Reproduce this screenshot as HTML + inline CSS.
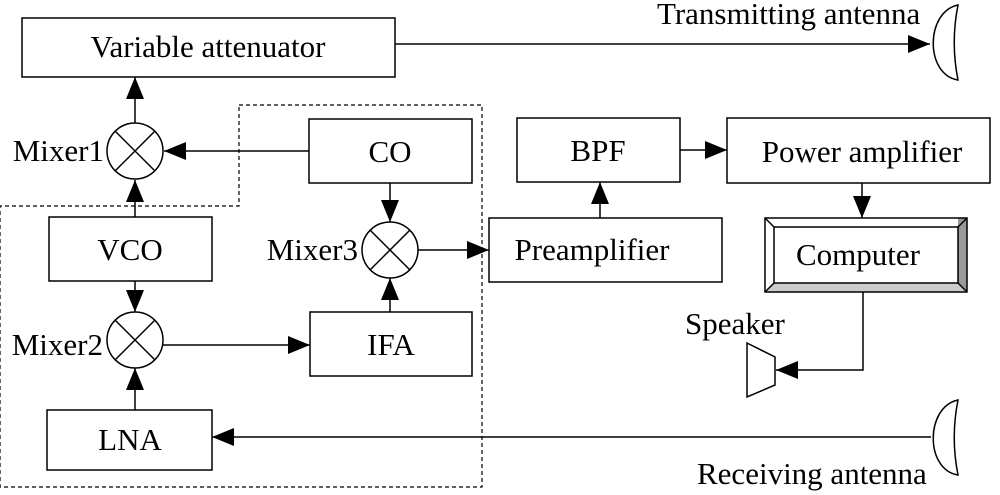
<!DOCTYPE html>
<html><head><meta charset="utf-8"><style>
html,body{margin:0;padding:0;background:#fff}
svg{display:block}
text{font-family:"Liberation Serif",serif;font-size:31px;fill:#000}
</style></head><body>
<svg width="1000" height="495" viewBox="0 0 1000 495" xmlns="http://www.w3.org/2000/svg">
<defs>
<marker id="b" markerWidth="22" markerHeight="18" refX="22" refY="9" orient="auto" markerUnits="userSpaceOnUse"><path d="M0,0 L22,9 L0,18 Z" fill="#000"/></marker></defs>
<g fill="none" stroke="#000" stroke-width="1.5">
<path d="M239,105 H482 V487 H0 V206 H239 Z" stroke-dasharray="4,3" stroke-width="1.2"/>
<rect x="22" y="18" width="373" height="59"/>
<rect x="309" y="119" width="163" height="64"/>
<rect x="49" y="217" width="163" height="64"/>
<rect x="310" y="312" width="162" height="64"/>
<rect x="47" y="410" width="165" height="60"/>
<rect x="489" y="218" width="233" height="64"/>
<rect x="517" y="118" width="163" height="64"/>
<rect x="727" y="118" width="263" height="65"/>
<circle cx="135" cy="151" r="28"/><path d="M115,131 L155,171 M155,131 L115,171"/>
<circle cx="390" cy="250" r="28"/><path d="M370,230 L410,270 M410,230 L370,270"/>
<circle cx="135" cy="340" r="28"/><path d="M115,320 L155,360 M155,320 L115,360"/>
<path d="M395,44 H930" marker-end="url(#b)"/>
<path d="M135,123 V77" marker-end="url(#b)"/>
<path d="M309,151 H164" marker-end="url(#b)"/>
<path d="M135,217 V180" marker-end="url(#b)"/>
<path d="M390,183 V222" marker-end="url(#b)"/>
<path d="M418,250 H489" marker-end="url(#b)"/>
<path d="M390,312 V278" marker-end="url(#b)"/>
<path d="M135,281 V312" marker-end="url(#b)"/>
<path d="M163,345 H310" marker-end="url(#b)"/>
<path d="M135,410 V368" marker-end="url(#b)"/>
<path d="M931,437 H212" marker-end="url(#b)"/>
<path d="M600,218 V182" marker-end="url(#b)"/>
<path d="M680,150 H727" marker-end="url(#b)"/>
<path d="M862,183 V218" marker-end="url(#b)"/>
<path d="M863,292 V370 H776" marker-end="url(#b)"/>
<path d="M958,5 C925,12 925,75 958,80 C953,55 953,30 958,5 Z"/>
<path d="M958,400 C925,407 925,470 958,475 C953,450 953,425 958,400 Z"/>
<path d="M747,343 L775,357 L775,385 L747,397 Z"/>
</g>
<polygon points="958,218 967,218 967,292 958,283" fill="#999"/>
<polygon points="774,283 958,283 967,292 765,292" fill="#ccc"/>
<g fill="none" stroke="#000" stroke-width="1.5">
<rect x="765" y="218" width="202" height="74"/>
<rect x="774" y="227" width="184" height="56"/>
<path d="M765,218 L774,227 M967,218 L958,227 M765,292 L774,283 M967,292 L958,283"/>
</g>
<text x="208" y="57" text-anchor="middle">Variable attenuator</text>
<text x="657" y="24">Transmitting antenna</text>
<text x="104" y="161" text-anchor="end">Mixer1</text>
<text x="390" y="162" text-anchor="middle">CO</text>
<text x="130" y="260" text-anchor="middle">VCO</text>
<text x="358" y="260" text-anchor="end">Mixer3</text>
<text x="592" y="260" text-anchor="middle">Preamplifier</text>
<text x="598" y="161" text-anchor="middle">BPF</text>
<text x="862" y="162" text-anchor="middle">Power amplifier</text>
<text x="858" y="265" text-anchor="middle">Computer</text>
<text x="685" y="334">Speaker</text>
<text x="103" y="355" text-anchor="end">Mixer2</text>
<text x="391" y="355" text-anchor="middle">IFA</text>
<text x="130" y="450" text-anchor="middle">LNA</text>
<text x="697" y="484">Receiving antenna</text>
</svg>
</body></html>
